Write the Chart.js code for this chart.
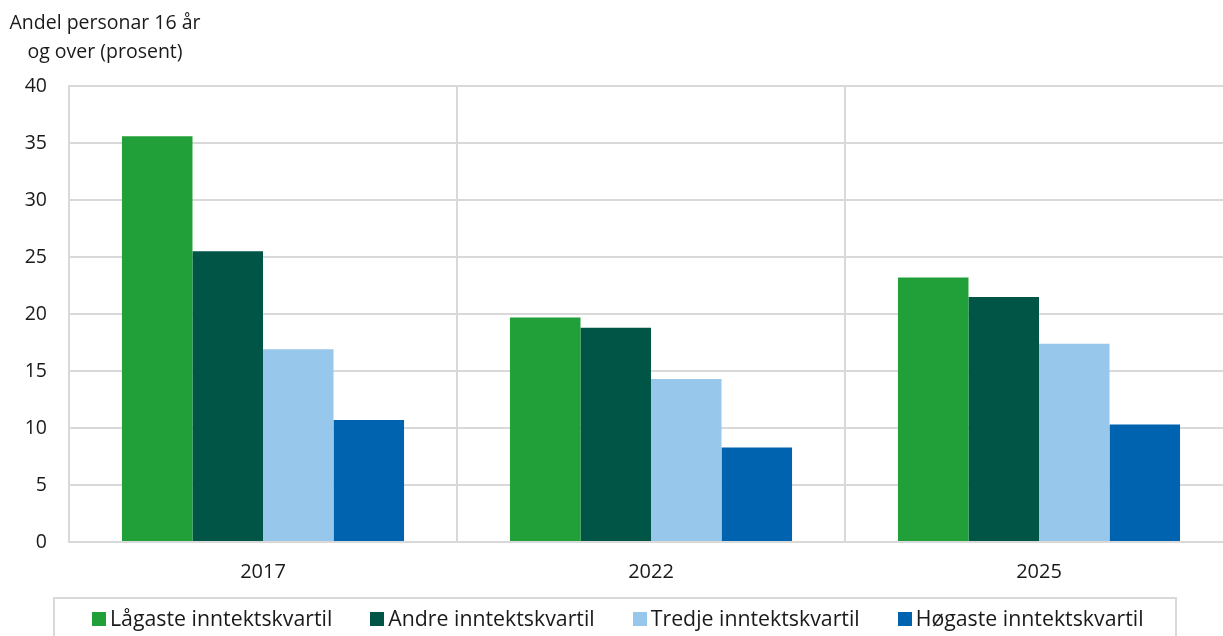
<!DOCTYPE html>
<html>
<head>
<meta charset="utf-8">
<script src="https://cdn.jsdelivr.net/npm/chart.js@4"></script>
<style>
  html, body { margin: 0; padding: 0; overflow: hidden; background: #fff; }
  #wrap { position: relative; width: 1240px; height: 650px; }
  #yTitle {
    position: absolute; left: 0; top: 7px; width: 210px;
    font-family: 'Open Sans', sans-serif; font-size: 19.5px; line-height: 29px;
    color: #1a1a1a; text-align: center; white-space: nowrap;
  }
  #legend {
    position: absolute; left: 53px; top: 597px; width: 1124px; height: 60px;
    border: 2px solid #d9d9d9; box-sizing: border-box;
    font-family: 'Open Sans', sans-serif; font-size: 21.3px; line-height: 22px;
    color: #1a1a1a; display: flex; align-items: flex-start;
    padding: 8px 0 0 37px;
  }
  #legend .item { display: flex; align-items: center; margin-right: 38px; white-space: nowrap; }
  #legend .swatch { width: 14px; height: 14px; margin-right: 4px; margin-top: 2px; }
</style>
</head>
<body>
<div id="wrap">
  <canvas id="chart" width="1240" height="602"></canvas>
  <div id="yTitle">Andel personar 16 år<br>og over (prosent)</div>
  <div id="legend"></div>
</div>
<script>
// Data
const years = ['2017', '2022', '2025'];
const seriesNames = ['Lågaste inntektskvartil', 'Andre inntektskvartil', 'Tredje inntektskvartil', 'Høgaste inntektskvartil'];
const lowest = [35.6, 19.7, 23.2];
const second = [25.5, 18.8, 21.5];
const third = [16.9, 14.3, 17.4];
const highest = [10.7, 8.3, 10.3];
const yTicks = [0, 5, 10, 15, 20, 25, 30, 35, 40];

const colors = ['#21a039', '#015546', '#97c7eb', '#0063af'];
const gridColor = '#d9d9d9';
const textColor = '#1a1a1a';

Chart.defaults.font.family = "'Open Sans', sans-serif";
Chart.defaults.color = textColor;

const allValues = [lowest, second, third, highest];

// legend drawn as html so the frame and spacing match the original
const legendEl = document.getElementById('legend');
seriesNames.forEach((name, i) => {
  const item = document.createElement('div');
  item.className = 'item';
  item.innerHTML = `<span class="swatch" style="background:${colors[i]}"></span><span>${name}</span>`;
  legendEl.appendChild(item);
});

new Chart(document.getElementById('chart'), {
  type: 'bar',
  data: {
    labels: years,
    datasets: seriesNames.map((name, i) => ({
      label: name,
      data: allValues[i],
      backgroundColor: colors[i],
      borderWidth: 0,
      categoryPercentage: 0.727,
      barPercentage: 1
    }))
  },
  options: {
    responsive: false,
    animation: false,
    layout: { padding: { top: 86, right: 7, left: 0, bottom: 0 } },
    plugins: {
      tooltip: { enabled: false },
      legend: { display: false }
    },
    scales: {
      x: {
        grid: { color: gridColor, lineWidth: 2, offset: true, drawTicks: false },
        border: { color: gridColor, width: 2 },
        ticks: { padding: 18, font: { size: 20 }, color: textColor }
      },
      y: {
        min: 0,
        max: 40,
        afterBuildTicks(scale) {
          scale.ticks = yTicks.map(v => ({ value: v }));
        },
        afterFit(scale) { scale.width = 69; },
        grid: { color: gridColor, lineWidth: 2, drawTicks: false },
        border: { color: gridColor, width: 2 },
        ticks: { padding: 22, font: { size: 19.5 }, color: textColor }
      }
    }
  }
});
</script>
</body>
</html>
